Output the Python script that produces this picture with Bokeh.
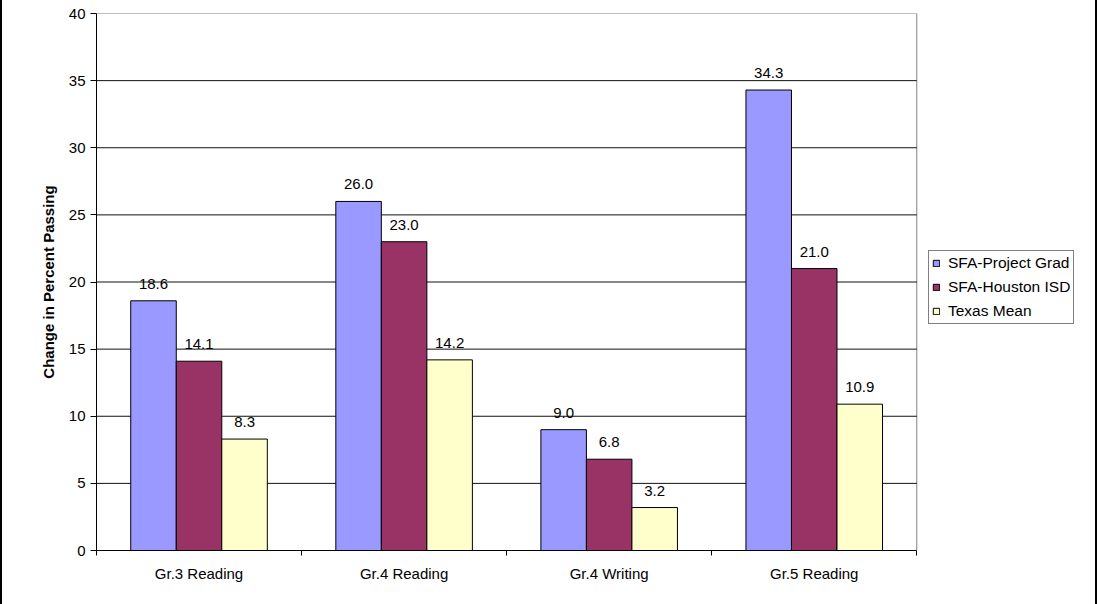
from bokeh.plotting import figure
from bokeh.models import ColumnDataSource, FixedTicker, Legend, LegendItem, Range1d
from bokeh.transform import dodge
from bokeh.core.properties import value
from bokeh.embed import file_html
from bokeh.resources import INLINE

# Chart data
categories = ["Gr.3 Reading", "Gr.4 Reading", "Gr.4 Writing", "Gr.5 Reading"]
series_names = ["SFA-Project Grad", "SFA-Houston ISD", "Texas Mean"]
project_grad = [18.6, 26.0, 9.0, 34.3]
houston_isd = [14.1, 23.0, 6.8, 21.0]
texas_mean = [8.3, 14.2, 3.2, 10.9]
y_ticks = [0, 5, 10, 15, 20, 25, 30, 35, 40]

colors = ["#9999FF", "#993366", "#FFFFCC"]
FONT = "Liberation Sans"

n_cat = len(categories)
y_max = y_ticks[-1]
centers = [i + 0.5 for i in range(n_cat)]
source = ColumnDataSource(dict(
    x=centers,
    cat=categories,
    pg=project_grad,
    hisd=houston_isd,
    tx=texas_mean,
    pg_lbl=[f"{v:.1f}" for v in project_grad],
    hisd_lbl=[f"{v:.1f}" for v in houston_isd],
    tx_lbl=[f"{v:.1f}" for v in texas_mean],
))

# The canvas frame runs to the right edge so the legend can sit beside
# the bar area; the bar area itself (0..n_cat) takes part of the frame width.
FIG_W, LEFT = 1093, 94
frame_w = FIG_W - LEFT
area_w = 817
x_end = n_cat * frame_w / area_w

p = figure(
    width=FIG_W, height=604,
    output_backend="svg", toolbar_location=None,
    x_range=Range1d(0, x_end), y_range=Range1d(0, y_max),
    min_border_left=LEFT, min_border_right=0,
    min_border_top=13, min_border_bottom=54,
)
p.styles = {"box-sizing": "content-box",
            "border-left": "2px solid #000000",
            "border-right": "2px solid #000000"}

p.outline_line_color = None
p.background_fill_color = "white"
p.border_fill_color = "white"
p.xgrid.visible = False
p.ygrid.visible = False

# Plot-area border (grey) and horizontal gridlines
p.quad(left=0, right=n_cat, bottom=0, top=y_max, fill_color=None,
       line_color="#808080", line_width=1)
inner = [t for t in y_ticks if 0 < t < y_max]
p.segment(x0=[0] * len(inner), x1=[n_cat] * len(inner), y0=inner, y1=inner,
          line_color="#111111", line_width=1)

bar_w = 0.222
offsets = [-bar_w, 0.0, bar_w]
fields = ["pg", "hisd", "tx"]
label_fields = ["pg_lbl", "hisd_lbl", "tx_lbl"]
renderers = []
for off, fld, lf, col in zip(offsets, fields, label_fields, colors):
    r = p.vbar(x=dodge("x", off), top=fld, width=bar_w, bottom=0, source=source,
               fill_color=col, line_color="black", line_width=1)
    renderers.append(r)
    p.text(x=dodge("x", off), y=fld, text=lf, source=source,
           text_align="center", text_baseline="alphabetic", y_offset=-17,
           text_font=value(FONT), text_font_size="15px", text_color="black")

# Y axis
p.yaxis.ticker = FixedTicker(ticks=y_ticks)
p.yaxis.axis_label = "Change in Percent Passing"
p.yaxis.axis_label_text_font = FONT
p.yaxis.axis_label_text_font_style = "bold"
p.yaxis.axis_label_text_font_size = "15px"
p.yaxis.axis_label_text_color = "black"
p.yaxis.axis_label_standoff = 9
p.yaxis.major_label_text_font = FONT
p.yaxis.major_label_text_font_size = "15px"
p.yaxis.major_label_text_color = "black"
p.yaxis.major_label_standoff = 5
p.yaxis.major_tick_in = 0
p.yaxis.major_tick_out = 6
p.yaxis.minor_tick_in = 0
p.yaxis.minor_tick_out = 0
p.yaxis.axis_line_color = "black"
p.yaxis.major_tick_line_color = "black"

# X axis: labels at group centers, ticks at group boundaries
p.xaxis.bounds = (0, n_cat)
p.xaxis.ticker = FixedTicker(ticks=centers, minor_ticks=list(range(n_cat + 1)))
p.xaxis.major_label_overrides = {c: name for c, name in zip(centers, categories)}
p.xaxis.major_tick_in = 0
p.xaxis.major_tick_out = 0
p.xaxis.minor_tick_in = 0
p.xaxis.minor_tick_out = 5
p.xaxis.minor_tick_line_color = "black"
p.xaxis.axis_line_color = "black"
p.xaxis.major_label_text_font = FONT
p.xaxis.major_label_text_font_size = "15px"
p.xaxis.major_label_text_color = "black"
p.xaxis.major_label_standoff = 9

# Legend beside the bar area
legend = Legend(
    items=[LegendItem(label=n, renderers=[r]) for n, r in zip(series_names, renderers)],
    location=(832, 226),
    orientation="vertical",
    label_text_font=FONT,
    label_text_font_size="15.5px",
    label_text_color="black",
    glyph_width=8, glyph_height=8,
    label_standoff=8,
    label_height=16,
    spacing=6,
    padding=3,
    margin=0,
    border_line_color="black",
    border_line_width=1,
    background_fill_color="white",
    background_fill_alpha=1.0,
)
p.add_layout(legend, "center")

open("out.html", "w").write(file_html(p, INLINE))
